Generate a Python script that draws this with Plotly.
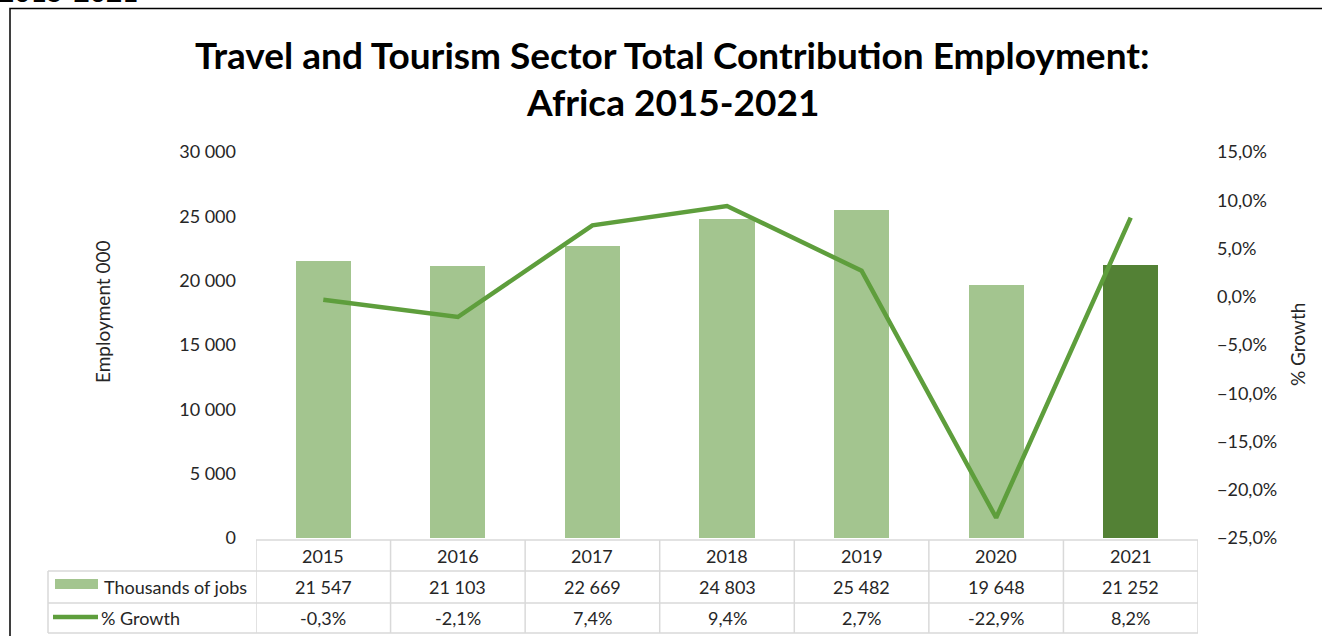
import plotly.graph_objects as go

# ---- data ----
years = ["2015", "2016", "2017", "2018", "2019", "2020", "2021"]
jobs_thousands = [21547, 21103, 22669, 24803, 25482, 19648, 21252]
growth_pct = [-0.3, -2.1, 7.4, 9.4, 2.7, -22.9, 8.2]

series_jobs = "Thousands of jobs"
series_growth = "% Growth"
title_lines = ["Travel and Tourism Sector Total Contribution Employment:", "Africa 2015-2021"]
y_title = "Employment 000"
y2_title = "% Growth"
header_stub = "2015-2021"

# ---- styling ----
W, H = 1322, 636
ML, MR, MT, MB = 256, 124, 152, 98
PW, PH = W - ML - MR, H - MT - MB
FONT = "Lato"
BAR_LIGHT = "#a3c58f"
BAR_DARK = "#538135"
LINE_COL = "#5e9e3c"
GRID_COL = "#d9d9d9"
TXT = "#262626"
FS = 18


def px(x):
    return (x - ML) / PW


def py(y):
    return (H - MB - y) / PH


xs = list(range(len(years)))
bar_colors = [BAR_LIGHT] * (len(years) - 1) + [BAR_DARK]

fig = go.Figure()
fig.add_trace(go.Bar(x=xs, y=jobs_thousands, marker=dict(color=bar_colors, line=dict(width=0)),
                     width=0.41, name=series_jobs, yaxis="y"))
fig.add_trace(go.Scatter(x=xs, y=growth_pct, mode="lines", line=dict(color=LINE_COL, width=4.5),
                         name=series_growth, yaxis="y2"))

shapes = []
annotations = []

# outer frame
shapes.append(dict(type="rect", xref="paper", yref="paper", x0=px(10), x1=px(1340),
                   y0=py(660), y1=py(8.5), line=dict(color="black", width=1.5), layer="below"))

# data table grid
row_y = [540, 571, 603, 633]
grid = dict(color=GRID_COL, width=1.5)
shapes.append(dict(type="line", xref="x", yref="paper", x0=-0.5, x1=len(years) - 0.5,
                   y0=py(row_y[0]), y1=py(row_y[0]), line=grid))
for yy in row_y[1:]:
    shapes.append(dict(type="line", xref="paper", yref="paper", x0=px(48), x1=1,
                       y0=py(yy), y1=py(yy), line=grid))
for k in range(len(years) + 1):
    shapes.append(dict(type="line", xref="x", yref="paper", x0=k - 0.5, x1=k - 0.5,
                       y0=py(row_y[0]), y1=py(row_y[-1]), line=grid))
shapes.append(dict(type="line", xref="paper", yref="paper", x0=px(48), x1=px(48),
                   y0=py(row_y[1]), y1=py(row_y[-1]), line=grid))

# legend keys in the table
shapes.append(dict(type="rect", xref="paper", yref="paper", x0=px(55), x1=px(98),
                   y0=py(589), y1=py(579), fillcolor=BAR_LIGHT, line=dict(width=0)))
shapes.append(dict(type="line", xref="paper", yref="paper", x0=px(53), x1=px(98),
                   y0=py(617), y1=py(617), line=dict(color=LINE_COL, width=4.5)))

cell_font = dict(family=FONT, size=FS, color=TXT)
row_mid = [(row_y[i] + row_y[i + 1]) / 2 for i in range(3)]


def fmt_jobs(v):
    return f"{v:,}".replace(",", " ")


def fmt_pct(v):
    return f"{v:.1f}%".replace(".", ",")


def note(x, y, text, xref="paper", xanchor="center", yanchor="middle", font=cell_font, **kw):
    annotations.append(dict(x=x, y=y, xref=xref, yref="paper", text=text, showarrow=False,
                            xanchor=xanchor, yanchor=yanchor, font=font, **kw))


for i in xs:
    note(i, py(row_mid[0]), years[i], xref="x")
    note(i, py(row_mid[1]), fmt_jobs(jobs_thousands[i]), xref="x")
    note(i, py(row_mid[2]), fmt_pct(growth_pct[i]), xref="x")

note(px(102), py(row_mid[1]), series_jobs, xanchor="left")
note(px(99), py(row_mid[2]), series_growth, xanchor="left")

# titles
title_font = dict(family=FONT, size=37, color="black", weight="bold")
note(px(672), py(54), title_lines[0], font=title_font)
note(px(672), py(101), title_lines[1], font=title_font)
note(px(102), py(312), y_title, textangle=-90, font=dict(family=FONT, size=19, color=TXT))
note(px(1297), py(345), y2_title, textangle=-90, font=dict(family=FONT, size=19, color=TXT))
note(px(-4), py(10.5), header_stub, xanchor="left", yanchor="bottom",
     font=dict(family=FONT, size=28, color="black", weight="bold"))

fig.update_layout(
    width=W, height=H,
    margin=dict(l=ML, r=MR, t=MT, b=MB, pad=0),
    paper_bgcolor="white", plot_bgcolor="white",
    separators=", ",
    showlegend=False,
    bargap=0,
    font=dict(family=FONT, size=FS, color=TXT),
    xaxis=dict(range=[-0.5, len(years) - 0.5], showticklabels=False, showgrid=False,
               zeroline=False, showline=False, ticks="", fixedrange=True),
    yaxis=dict(range=[0, 30000], dtick=5000, tickformat=",d", showgrid=False, zeroline=False,
               showline=False, ticks="", ticklabelstandoff=19,
               tickfont=dict(family=FONT, size=FS, color=TXT)),
    yaxis2=dict(range=[-25, 15], dtick=5, tickformat=".1f", ticksuffix="%", overlaying="y",
                side="right", showgrid=False, zeroline=False, showline=False, ticks="",
                ticklabelstandoff=18, tickfont=dict(family=FONT, size=FS, color=TXT)),
    shapes=shapes,
    annotations=annotations,
)

fig.write_html("out.html")
